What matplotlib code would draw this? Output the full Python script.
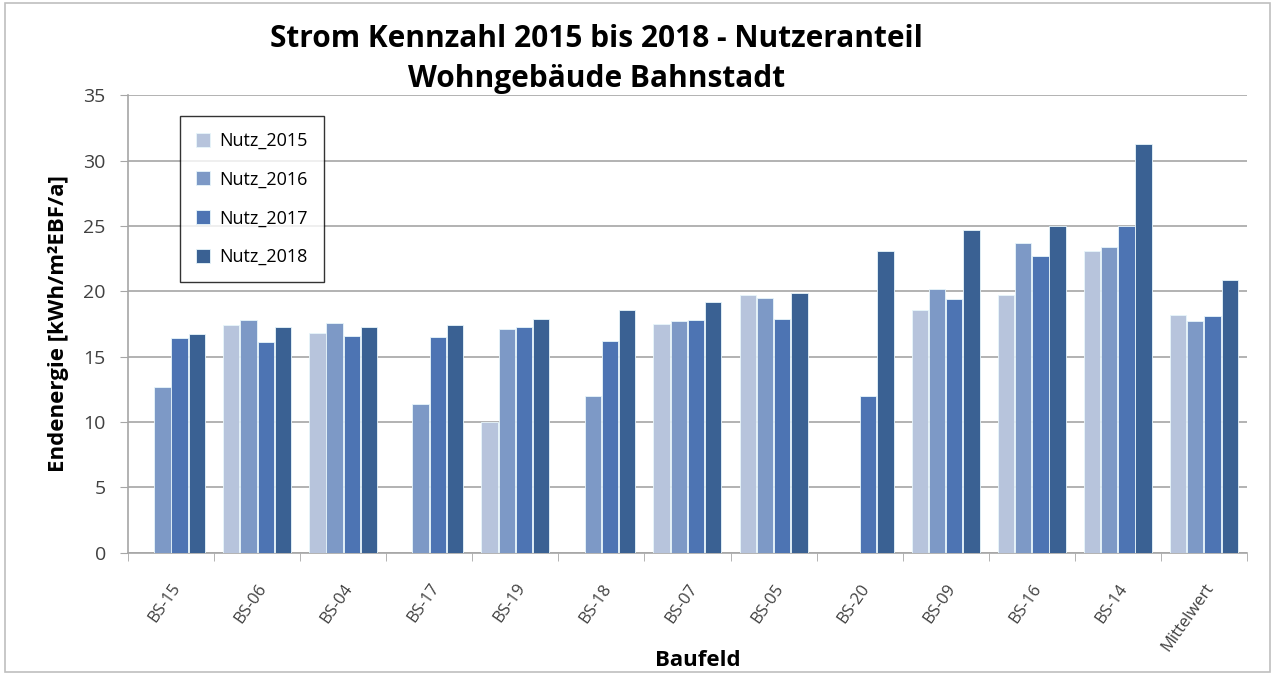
import matplotlib.pyplot as plt
import numpy as np
from matplotlib.patches import Rectangle

plt.rcParams['font.family'] = ['Open Sans', 'DejaVu Sans']

baufeld = ["BS-15", "BS-06", "BS-04", "BS-17", "BS-19", "BS-18", "BS-07",
           "BS-05", "BS-20", "BS-09", "BS-16", "BS-14", "Mittelwert"]
nutz_2015 = [np.nan, 17.4, 16.8, np.nan, 10.0, np.nan, 17.5, 19.7, np.nan, 18.6, 19.7, 23.1, 18.2]
nutz_2016 = [12.7, 17.8, 17.6, 11.4, 17.1, 12.0, 17.7, 19.5, np.nan, 20.2, 23.7, 23.4, 17.7]
nutz_2017 = [16.4, 16.1, 16.6, 16.5, 17.3, 16.2, 17.8, 17.9, 12.0, 19.4, 22.7, 25.0, 18.1]
nutz_2018 = [16.7, 17.3, 17.3, 17.4, 17.9, 18.6, 19.2, 19.9, 23.1, 24.7, 25.0, 31.3, 20.9]

serien = [("Nutz_2015", nutz_2015, "#b7c4dc"),
          ("Nutz_2016", nutz_2016, "#7d99c6"),
          ("Nutz_2017", nutz_2017, "#4d74b3"),
          ("Nutz_2018", nutz_2018, "#3a6193")]

fig = plt.figure(figsize=(12.75, 6.75), dpi=100)
ax = fig.add_axes([0.1004, 0.181, 0.8776, 0.678])

x = np.arange(len(baufeld))
breite = 0.19
for i, (name, werte, farbe) in enumerate(serien):
    ax.bar(x + (i - 1.5) * 0.2, werte, breite, color=farbe, label=name,
           edgecolor="#e8f6fb", linewidth=0.6, zorder=3)

ax.set_xlim(-0.5, len(baufeld) - 0.5)
ax.set_ylim(0, 35)
ax.set_yticks(np.arange(0, 36, 5))
ax.yaxis.grid(True, color="#a6a6a6", linewidth=1.2, zorder=0)
ax.set_xticks(x)
ax.set_xticklabels(baufeld, rotation=55, ha="right", rotation_mode="anchor",
                   fontsize=12, color="#404040")
ax.set_xticks(np.arange(-0.5, len(baufeld)), minor=True)
ax.tick_params(axis="x", which="major", length=0, pad=20)
ax.tick_params(axis="x", which="minor", length=6, color="#a6a6a6")
ax.tick_params(axis="y", length=6, color="#a6a6a6", labelsize=14, labelcolor="#404040", pad=10)
for s in ["top", "right"]:
    ax.spines[s].set_visible(False)
for s in ["left", "bottom"]:
    ax.spines[s].set_color("#a6a6a6")
    ax.spines[s].set_linewidth(1.2)

ax.set_ylabel("Endenergie [kWh/m²EBF/a]", fontsize=16, fontweight="bold", labelpad=10)
fig.text(0.547, 0.022, "Baufeld", ha="center", va="center",
         fontsize=16, fontweight="bold")

fig.text(0.468, 0.942, "Strom Kennzahl 2015 bis 2018 - Nutzeranteil",
         ha="center", va="center", fontsize=21.5, fontweight="bold")
fig.text(0.468, 0.883, "Wohngebäude Bahnstadt",
         ha="center", va="center", fontsize=21.5, fontweight="bold")

leg = ax.legend(loc="upper left", bbox_to_anchor=(0.038, 0.975), fontsize=13,
                frameon=True, fancybox=False, edgecolor="black",
                labelspacing=1.15, handlelength=0.8, handleheight=0.8,
                handletextpad=0.5, borderpad=0.9)
leg.get_frame().set_linewidth(1.0)

fig.patches.append(Rectangle((0.004, 0.005), 0.992, 0.99, transform=fig.transFigure,
                             fill=False, edgecolor="#bfbfbf", linewidth=1.2))

fig.savefig("out.png", dpi=100)
